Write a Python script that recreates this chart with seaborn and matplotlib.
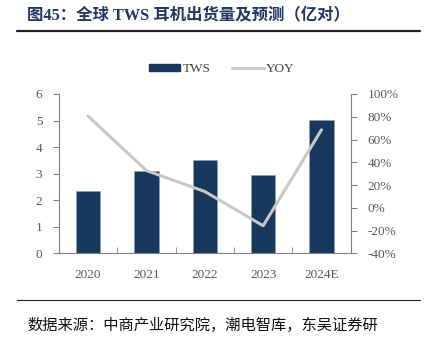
import matplotlib
matplotlib.use("Agg")
import matplotlib.pyplot as plt
import seaborn as sns
import pandas as pd
from matplotlib.patches import Patch
from matplotlib.lines import Line2D
from matplotlib.ticker import FuncFormatter

categories = ["2020", "2021", "2022", "2023", "2024E"]
tws = [2.34, 3.10, 3.53, 2.96, 5.01]
yoy = [80.5, 32.7, 14.3, -15.8, 68.5]
title = "图45：全球 TWS 耳机出货量及预测（亿对）"
source = "数据来源：中商产业研究院，潮电智库，东吴证券研"

sns.set_style("white")
plt.rcParams["font.family"] = ["Liberation Serif", "Noto Sans CJK SC", "DejaVu Sans"]

df = pd.DataFrame({"year": categories, "TWS": tws, "YOY": yoy})

bar_color = "#17375e"
line_color = "#c8c8c8"
axis_color = "#808080"
tick_color = "#595959"

fig = plt.figure(figsize=(4.24, 3.37), dpi=100)
ax = fig.add_axes([0.139, 0.2484, 0.688, 0.4727])

sns.barplot(data=df, x="year", y="TWS", ax=ax, color=bar_color, width=0.42,
            saturation=1, edgecolor="#8da2bd", linewidth=0.4)
ax.set_ylim(0, 6)
ax.set_yticks(range(0, 7))
ax.set_xlim(-0.5, 4.5)
ax.set_xlabel("")
ax.set_ylabel("")

ax2 = ax.twinx()
sns.lineplot(data=df, x="year", y="YOY", ax=ax2, color=line_color, linewidth=2.2,
             sort=False)
ax2.set_ylim(-40, 100)
ax2.set_yticks(range(-40, 101, 20))
ax2.yaxis.set_major_formatter(FuncFormatter(lambda v, p: f"{int(v)}%"))
ax2.set_xlim(-0.5, 4.5)
ax2.set_ylabel("")
ax2.set_xlabel("")

for a in (ax, ax2):
    a.spines["top"].set_visible(False)
    for s in ("left", "right", "bottom"):
        a.spines[s].set_color(axis_color)
        a.spines[s].set_linewidth(0.8)
ax.spines["right"].set_visible(False)
ax2.spines["left"].set_visible(False)
ax2.spines["bottom"].set_visible(False)

ax.tick_params(axis="y", left=True, direction="out", length=4, color=axis_color,
               labelsize=9.5, labelcolor=tick_color, pad=8)
ax2.tick_params(axis="y", right=True, direction="out", length=4, color=axis_color,
                labelsize=9.5, labelcolor=tick_color, pad=8)
ax.set_xticks(range(len(categories)))
ax.set_xticklabels(categories)
ax.tick_params(axis="x", bottom=False, labelsize=9.5, labelcolor=tick_color, pad=8)
ax.set_xticks([i + 0.5 for i in range(len(categories) - 1)], minor=True)
ax.tick_params(axis="x", which="minor", bottom=True, direction="in", length=4,
               color=axis_color)

handles = [Patch(facecolor=bar_color, edgecolor=bar_color, label="TWS"),
           Line2D([0], [0], color=line_color, linewidth=2.2, label="YOY")]
fig.legend(handles=handles, loc="center", bbox_to_anchor=(0.523, 0.795), ncol=2,
           frameon=False, fontsize=9.5, handlelength=2.4, handleheight=0.5,
           columnspacing=1.6, handletextpad=0.2, labelcolor="#404040")

fig.text(0.064, 0.955, title, fontsize=11.8, fontweight="bold", color="#1f3864",
         va="center", ha="left")
fig.add_artist(Line2D([0.04, 0.99], [0.908, 0.908], color="#222222", linewidth=1.6))
fig.add_artist(Line2D([0.04, 0.99], [0.110, 0.110], color="#222222", linewidth=0.8))
fig.text(0.064, 0.035, source, fontsize=11, color="#111111", va="center",
         ha="left", family=["Noto Sans CJK SC", "DejaVu Sans"])

fig.savefig("out.png", dpi=100)
